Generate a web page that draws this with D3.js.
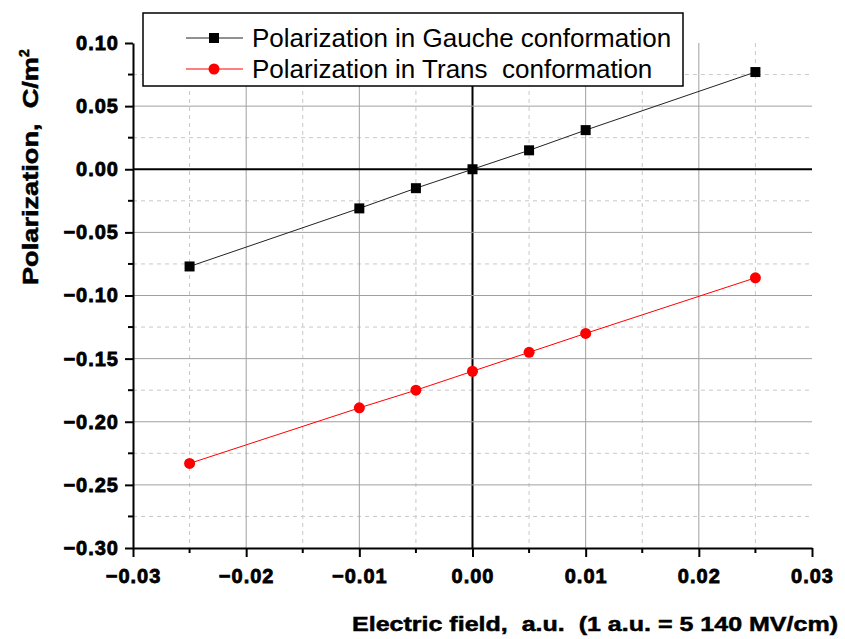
<!DOCTYPE html>
<html>
<head>
<meta charset="utf-8">
<script src="https://cdn.jsdelivr.net/npm/d3@7"></script>
<style>
  body { margin: 0; background: #fff; }
  svg { display: block; }
</style>
</head>
<body>
<svg id="chart" width="845" height="639"></svg>
<script>
// electric field (a.u.)
const field = [-0.025, -0.01, -0.005, 0, 0.005, 0.01, 0.025];
const gauche = [-0.077, -0.031, -0.015, 0.0, 0.015, 0.031, 0.077];
const trans = [-0.233, -0.189, -0.175, -0.160, -0.145, -0.130, -0.086];
const xTicks = [-0.03, -0.02, -0.01, 0, 0.01, 0.02, 0.03];
const yTicks = [0.10, 0.05, 0.0, -0.05, -0.10, -0.15, -0.20, -0.25, -0.30];
const legendLabels = ["Polarization in Gauche conformation", "Polarization in Trans  conformation"];

const margin = {left: 133, right: 33, top: 43, bottom: 91},
      W = 845, H = 639,
      width = W - margin.left - margin.right,
      height = H - margin.top - margin.bottom;

const svg = d3.select("#chart");
const g = svg.append("g").attr("transform", `translate(${margin.left},${margin.top})`);

const x = d3.scaleLinear().domain([-0.03, 0.03]).range([0, width]);
const y = d3.scaleLinear().domain([-0.30, 0.10]).range([height, 0]);

const xMinor = d3.range(-0.025, 0.03, 0.01);
const yMinor = d3.range(0.075, -0.30, -0.05);

// minor dashed grid
g.selectAll(".vminor").data(xMinor).join("line")
    .attr("x1", d => x(d)).attr("x2", d => x(d))
    .attr("y1", 0).attr("y2", height)
    .attr("stroke", "#c8c8c8").attr("stroke-dasharray", "4,4");
g.selectAll(".hminor").data(yMinor).join("line")
    .attr("y1", d => y(d)).attr("y2", d => y(d))
    .attr("x1", 0).attr("x2", width)
    .attr("stroke", "#c8c8c8").attr("stroke-dasharray", "4,4");

// major grid (inner only)
g.selectAll(".vmajor").data(xTicks.slice(1, -1)).join("line")
    .attr("x1", d => x(d)).attr("x2", d => x(d))
    .attr("y1", 0).attr("y2", height)
    .attr("stroke", d => d === 0 ? "#000" : "#a0a0a0")
    .attr("stroke-width", d => d === 0 ? 2 : 1);
g.selectAll(".hmajor").data(yTicks.slice(1, -1)).join("line")
    .attr("y1", d => y(d)).attr("y2", d => y(d))
    .attr("x1", 0).attr("x2", width)
    .attr("stroke", d => d === 0 ? "#000" : "#a0a0a0")
    .attr("stroke-width", d => d === 0 ? 2 : 1);

// axes
const xAxis = d3.axisBottom(x).tickValues(xTicks).tickFormat(d3.format(".2f"))
    .tickSize(9).tickPadding(12).tickSizeOuter(0);
const yAxis = d3.axisLeft(y).tickValues(yTicks).tickFormat(d3.format(".2f"))
    .tickSize(8).tickPadding(6).tickSizeOuter(0);

const gx = g.append("g").attr("transform", `translate(0,${height})`).call(xAxis);
const gy = g.append("g").call(yAxis);
[gx, gy].forEach(a => {
    a.attr("font-family", "Liberation Sans, Arial, sans-serif").attr("font-size", 20);
    a.select(".domain").attr("stroke", "#000").attr("stroke-width", 2);
    a.selectAll(".tick line").attr("stroke", "#000").attr("stroke-width", 2);
    a.selectAll(".tick text")
        .attr("fill", "#000")
        .attr("font-weight", "bold")
        .attr("stroke", "#000").attr("stroke-width", 0.8)
        .attr("letter-spacing", 1);
});

// minor ticks
gx.selectAll(".mtick").data(xMinor).join("line")
    .attr("x1", d => x(d)).attr("x2", d => x(d))
    .attr("y1", 0).attr("y2", 5).attr("stroke", "#000").attr("stroke-width", 2);
gy.selectAll(".mtick").data(yMinor).join("line")
    .attr("y1", d => y(d)).attr("y2", d => y(d))
    .attr("x1", 0).attr("x2", -5).attr("stroke", "#000").attr("stroke-width", 2);

// series
const line = d3.line().x((d, i) => x(field[i])).y(d => y(d));
g.append("path").datum(gauche).attr("d", line)
    .attr("fill", "none").attr("stroke", "#222").attr("stroke-width", 1);
g.append("path").datum(trans).attr("d", line)
    .attr("fill", "none").attr("stroke", "#ff0000").attr("stroke-width", 1);

g.selectAll(".sq").data(gauche).join("rect")
    .attr("x", (d, i) => x(field[i]) - 5).attr("y", d => y(d) - 5)
    .attr("width", 10).attr("height", 10).attr("fill", "#000");
g.selectAll(".dot").data(trans).join("circle")
    .attr("cx", (d, i) => x(field[i])).attr("cy", d => y(d))
    .attr("r", 5.5).attr("fill", "#ff0000");

// legend
const lg = svg.append("g").attr("transform", "translate(143,13)");
lg.append("rect").attr("width", 540).attr("height", 73)
    .attr("fill", "#fff").attr("stroke", "#000").attr("stroke-width", 1.5);
const rows = lg.selectAll(".row").data(legendLabels).join("g")
    .attr("transform", (d, i) => `translate(0,${25 + i * 31})`);
rows.append("line").attr("x1", 43).attr("x2", 100)
    .attr("stroke", (d, i) => i === 0 ? "#222" : "#ff0000");
rows.filter((d, i) => i === 0).append("rect")
    .attr("x", 66).attr("y", -5).attr("width", 10).attr("height", 10).attr("fill", "#000");
rows.filter((d, i) => i === 1).append("circle")
    .attr("cx", 71).attr("r", 5.5).attr("fill", "#ff0000");
rows.append("text").attr("x", 109).attr("y", 9)
    .style("white-space", "pre")
    .attr("font-family", "Liberation Sans, Arial, sans-serif")
    .attr("font-size", 26)
    .text(d => d);

// axis titles
svg.append("text")
    .attr("x", 838).attr("y", 631).attr("text-anchor", "end")
    .style("white-space", "pre")
    .attr("font-family", "Liberation Sans, Arial, sans-serif")
    .attr("font-weight", "bold").attr("font-size", 21)
    .attr("stroke", "#000").attr("stroke-width", 0.5)
    .attr("textLength", 486).attr("lengthAdjust", "spacingAndGlyphs")
    .text("Electric field,  a.u.  (1 a.u. = 5 140 MV/cm)");

const yt = svg.append("text")
    .attr("transform", "translate(38,285) rotate(-90)")
    .style("white-space", "pre")
    .attr("font-family", "Liberation Sans, Arial, sans-serif")
    .attr("font-weight", "bold").attr("font-size", 22)
    .attr("stroke", "#000").attr("stroke-width", 0.5);
yt.append("tspan").attr("textLength", 228).attr("lengthAdjust", "spacingAndGlyphs")
    .text("Polarization,  C/m");
yt.append("tspan").attr("dy", -9).attr("font-size", 14).text("2");
</script>
</body>
</html>
